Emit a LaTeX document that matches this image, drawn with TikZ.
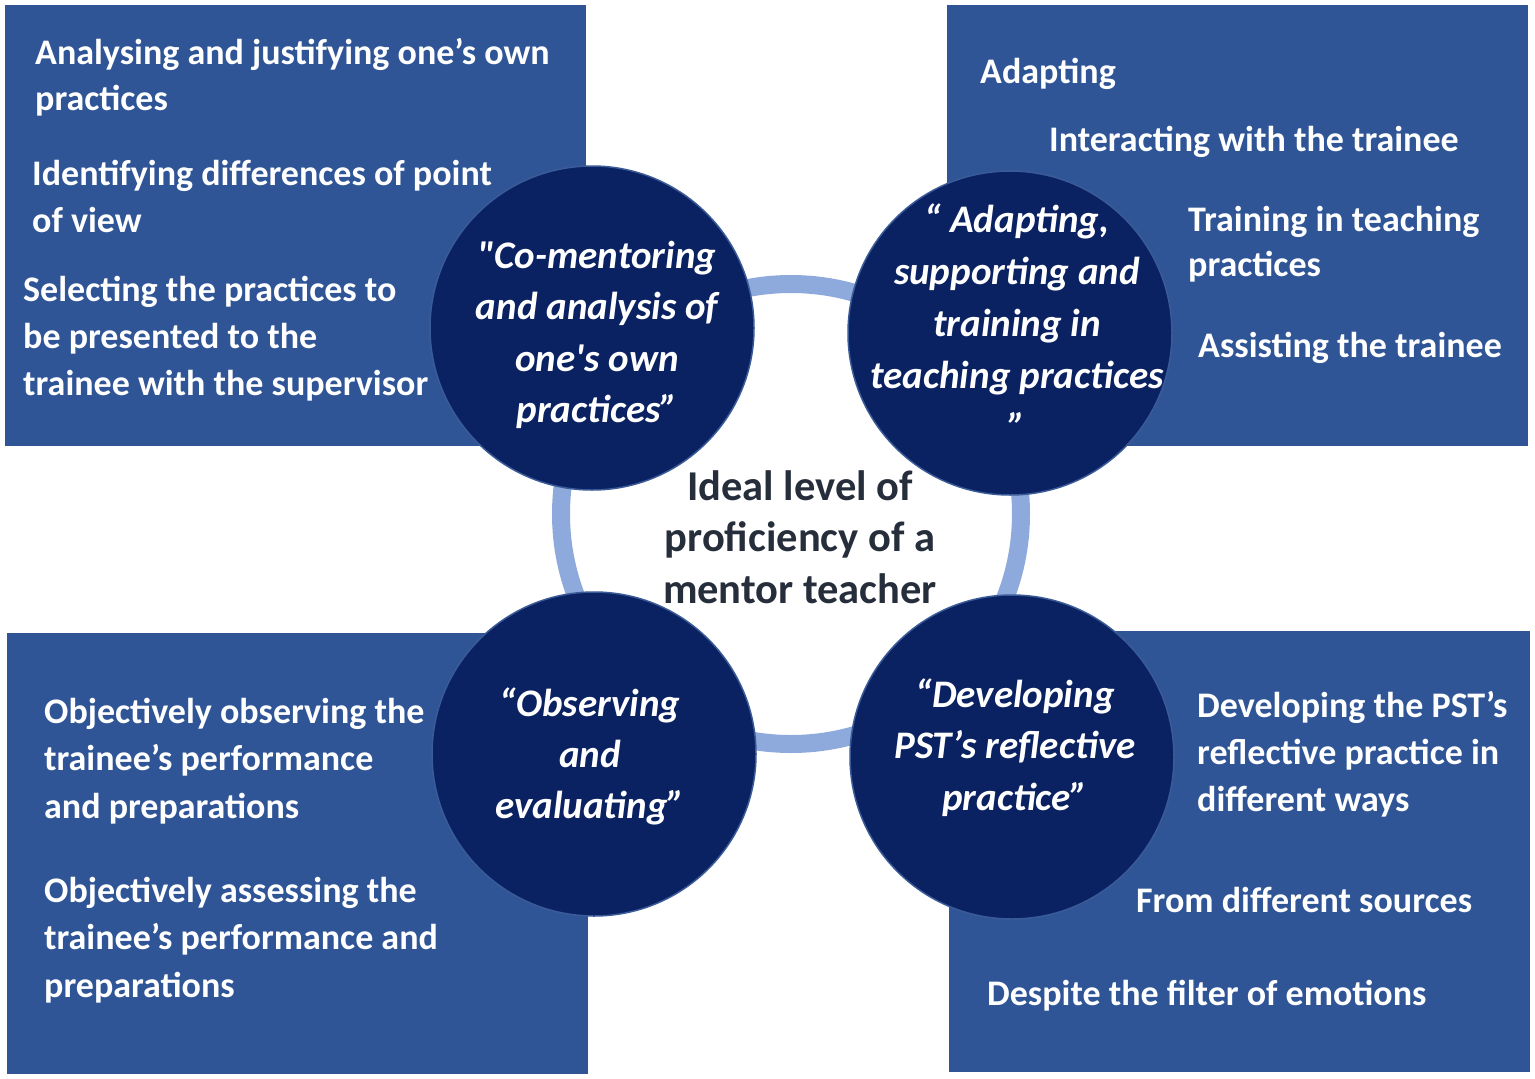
\documentclass[tikz,border=0pt]{standalone}
\usepackage{fontspec}
\newfontfamily\carlito{Carlito}
\usetikzlibrary{positioning}
\definecolor{boxblue}{HTML}{2F5597}
\definecolor{hubnavy}{HTML}{0B2262}
\definecolor{hubrim}{HTML}{3A5A98}
\definecolor{ringblue}{HTML}{8EA9DB}
\definecolor{coretext}{HTML}{262E3B}
\tikzset{
    panel/.style={fill=boxblue, anchor=north west, minimum width=581, minimum height=441, inner sep=0pt},
    hub/.style={circle, fill=hubnavy, draw=hubrim, line width=1.5pt, minimum size=324, inner sep=0pt},
    itemtext/.style={anchor=base west, inner sep=0pt, yshift=-2pt, text=white, font=\carlito\fontsize{36}{42}\selectfont\bfseries},
    hubtext/.style={anchor=base, inner sep=0pt, yshift=-3pt, text=white, font=\carlito\fontsize{39}{46}\selectfont\bfseries\itshape},
    coreline/.style={anchor=base, inner sep=0pt, yshift=-3pt, text=coretext, font=\carlito\fontsize{42.5}{50}\selectfont\bfseries}
}
\begin{document}
\begin{tikzpicture}[x=1pt,y=-1pt]
            \useasboundingbox[fill=white] (0,0) rectangle (1535,1079);
            \foreach \n/\x/\y in {tl/5/5, tr/947/5, bl/7/633, br/949/631} {
                \node[panel] (\n) at (\x,\y) {};
            }

            \coordinate (core) at (791,514);
            \draw[ringblue, line width=18] (core) circle (230);

            \foreach \n/\x/\y in {tlc/592/328, trc/1010/333, blc/594/754, brc/1012/757} {
                \node[hub] (\n) at (\x,\y) {};
            }

            \foreach \x/\y/\t [count=\i] in {35/62/Analysing and justifying one’s own, 35/108/practices,
                32/183/Identifying differences of point, 32/230/of view,
                23/299/Selecting the practices to, 23/346/be presented to the, 23/393/trainee with the supervisor,
                980/81/Adapting, 1049/149/Interacting with the trainee,
                1188/229/Training in teaching, 1188/274/practices, 1198/355/Assisting the trainee,
                44/721/Objectively observing the, 44/768/trainee’s performance, 44/816/and preparations,
                44/900/Objectively assessing the, 44/947/trainee’s performance and, 44/995/preparations,
                1197/715/Developing the PST’s, 1197/762/reflective practice in, 1197/809/different ways,
                1136/910/From different sources, 987/1003/Despite the filter of emotions} {
                \node[itemtext] (item\i) at (\x,\y) {\t};
            }

            \foreach \x/\y/\t [count=\i] in {597/265/"Co-mentoring, 597/316/and analysis of, 597/368/one's own, 597/419/practices”,
                1017/229/{“ Adapting,}, 1017/281/supporting and, 1017/333/training in, 1017/385/teaching practices, 1017/437/”,
                590/713/“Observing, 590/764/and, 590/815/evaluating”,
                1015/704/“Developing, 1015/755/PST’s reflective, 1015/807/practice”} {
                \node[hubtext] (hubline\i) at (\x,\y) {\t};
            }

            \foreach \y/\t [count=\i] in {497/Ideal level of, 548/proficiency of a, 600/mentor teacher} {
                \node[coreline] (coreline\i) at (800,\y) {\t};
            }
        \end{tikzpicture}
\end{document}
